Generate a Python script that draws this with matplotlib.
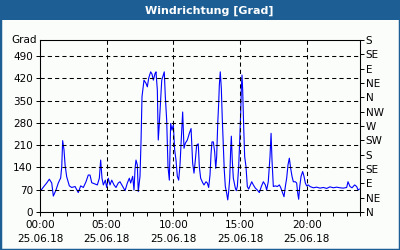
import matplotlib
matplotlib.use("Agg")
from matplotlib import pyplot as plt
from matplotlib.patches import Rectangle
from matplotlib.ticker import MultipleLocator

# hours since 00:00 on 25.06.18
hours = [0.0, 0.25, 0.5, 0.7, 0.88, 1.0, 1.2, 1.37, 1.55, 1.63, 1.7, 1.8, 1.88, 2.0,
         2.2, 2.38, 2.63, 2.87, 3.05, 3.25, 3.45, 3.62, 3.75, 3.88, 4.13, 4.3, 4.45,
         4.55, 4.65, 4.75, 4.9, 5.0, 5.12, 5.25, 5.38, 5.55, 5.7, 5.87, 6.0, 6.2,
         6.38, 6.55, 6.7, 6.8, 6.95, 7.05, 7.13, 7.2, 7.3, 7.37, 7.5, 7.58, 7.65,
         7.8, 7.95, 8.05, 8.15, 8.3, 8.4, 8.5, 8.63, 8.7, 8.8, 8.87, 8.95, 9.05,
         9.13, 9.25, 9.32, 9.4, 9.5, 9.6, 9.7, 9.8, 9.9, 10.0, 10.1, 10.2, 10.3,
         10.4, 10.5, 10.63, 10.7, 10.8, 10.9, 11.05, 11.2, 11.33, 11.45, 11.55,
         11.65, 11.75, 11.87, 11.95, 12.05, 12.2, 12.3, 12.45, 12.55, 12.65, 12.75,
         12.83, 12.9, 13.0, 13.1, 13.18, 13.25, 13.33, 13.4, 13.45, 13.52, 13.6,
         13.67, 13.75, 13.82, 13.9, 14.0, 14.08, 14.15, 14.23, 14.3, 14.35, 14.42,
         14.5, 14.57, 14.65, 14.72, 14.8, 14.9, 14.98, 15.05, 15.1, 15.15, 15.2,
         15.28, 15.35, 15.45, 15.55, 15.65, 15.75, 15.88, 16.0, 16.15, 16.3, 16.45,
         16.6, 16.75, 16.9, 17.0, 17.12, 17.25, 17.33, 17.4, 17.5, 17.65, 17.8,
         17.95, 18.05, 18.2, 18.3, 18.4, 18.5, 18.6, 18.7, 18.8, 18.9, 19.0, 19.15,
         19.25, 19.33, 19.4, 19.48, 19.58, 19.7, 19.8, 19.9, 20.0, 20.12, 20.25,
         20.5, 20.75, 21.0, 21.25, 21.5, 21.75, 22.0, 22.25, 22.5, 22.75, 23.0,
         23.1, 23.25, 23.4, 23.6, 23.75, 23.85, 23.95]
direction = [64, 78, 91, 103, 91, 50, 69, 91, 107, 142, 224, 195, 148, 111,
             82, 77, 80, 61, 82, 77, 95, 116, 116, 92, 88, 85, 106,
             163, 106, 85, 100, 77, 106, 85, 100, 85, 77, 91, 95, 80,
             67, 91, 106, 91, 112, 69, 137, 163, 148, 64, 112, 226, 362,
             414, 404, 393, 420, 440, 433, 414, 435, 440, 383, 226, 278, 351,
             414, 430, 440, 362, 289, 142, 100, 278, 257, 273, 195, 163, 112,
             100, 148, 257, 314, 200, 216, 226, 247, 262, 153, 122,
             163, 210, 214, 142, 106, 92, 85, 95, 91, 77, 116,
             184, 220, 220, 189, 137, 174, 278, 341, 398, 440, 388,
             294, 205, 132, 80, 59, 38, 64, 106, 195, 238, 163,
             106, 91, 75, 67, 80, 142, 226, 309, 388, 430, 383,
             262, 174, 142, 80, 72, 82, 95, 85, 75, 69, 61,
             80, 95, 85, 69, 95, 174, 247, 163, 80, 82, 80,
             85, 77, 59, 48, 80, 106, 148, 169, 137, 112, 95, 95,
             91, 59, 40, 80, 112, 127, 112, 91, 82, 85, 80,
             76, 78, 75, 77, 74, 79, 76, 78, 76, 75, 77,
             95, 80, 76, 85, 80, 69, 72]

x_ticks = [0, 5, 10, 15, 20]
x_labels = ["00:00\n25.06.18", "05:00\n25.06.18", "10:00\n25.06.18",
            "15:00\n25.06.18", "20:00\n25.06.18"]
y_ticks = [0, 70, 140, 210, 280, 350, 420, 490]
compass = ["N", "NE", "E", "SE", "S", "SW", "W", "NW", "N", "NE", "E", "SE", "S"]

frame_blue = "#1d5f95"
bg = "#fbfdfb"

fig = plt.figure(figsize=(4, 2.5), dpi=100, facecolor=bg)
fig.patches.append(Rectangle((0, 0), 1, 1, transform=fig.transFigure,
                             facecolor="none", edgecolor=frame_blue, linewidth=2.5))
fig.patches.append(Rectangle((0, 0.92), 1, 0.08, transform=fig.transFigure,
                             facecolor=frame_blue, edgecolor="none"))
fig.text(0.522, 0.957, "Windrichtung [Grad]", color="white", fontsize=8,
         fontweight="bold", ha="center", va="center")

ax = fig.add_axes([0.1, 0.152, 0.8, 0.688])
ax.set_facecolor(bg)
ax.plot(hours, direction, color="#0000ff", linewidth=0.8)

ax.set_xlim(0, 24)
ax.set_ylim(0, 540)
ax.set_xticks(x_ticks)
ax.set_xticklabels(x_labels, fontsize=7.5, linespacing=1.5)
ax.xaxis.set_minor_locator(MultipleLocator(1))
ax.set_yticks(y_ticks)
ax.tick_params(axis="both", which="both", direction="out", length=3, width=0.7,
               labelsize=7.5, pad=2)
ax.tick_params(axis="x", pad=3)

# dashed grid, not on the axis lines themselves
for y in y_ticks[1:]:
    ax.axhline(y, color="black", linestyle=(0, (4, 3)), linewidth=0.75)
for x in x_ticks[1:]:
    ax.axvline(x, color="black", linestyle=(0, (4, 3)), linewidth=0.75)
for s in ax.spines.values():
    s.set_linewidth(0.75)

# compass points on the right
ax2 = ax.twinx()
ax2.set_ylim(0, 540)
ax2.set_yticks(range(0, 541, 45))
ax2.set_yticklabels(compass)
ax2.tick_params(axis="y", direction="out", length=3, width=0.7, labelsize=7.5, pad=1)
for s in ax2.spines.values():
    s.set_linewidth(0.75)

ax.text(-0.01, 1.0, "Grad", transform=ax.transAxes, ha="right", va="center",
        fontsize=7.5)

fig.savefig("out.png", dpi=100, facecolor=bg)
